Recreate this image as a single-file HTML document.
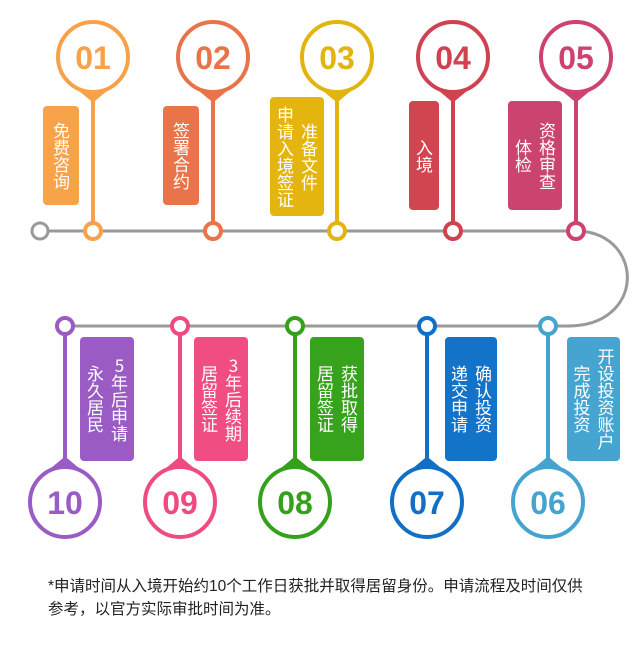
<!DOCTYPE html>
<html><head><meta charset="utf-8"><style>
html,body{margin:0;padding:0;background:#fff;}
#c{position:relative;width:640px;height:655px;overflow:hidden;font-family:"Liberation Sans","Noto Sans CJK SC",sans-serif;}
svg{position:absolute;left:0;top:0;}
.b{position:absolute;border-radius:4px;color:#fff;writing-mode:vertical-rl;text-orientation:upright;text-align:center;font-size:17px;line-height:24px;display:flex;align-items:center;justify-content:center;font-family:"Noto Sans CJK SC",sans-serif;}
.n{font-family:"Liberation Sans",sans-serif;font-weight:bold;font-size:32px;}
.foot{position:absolute;left:48px;top:575px;width:562px;font-size:15.5px;line-height:23px;color:#222;font-family:"Liberation Sans","Noto Sans CJK SC",sans-serif;}
</style></head><body><div id="c">
<svg width="640" height="655" viewBox="0 0 640 655">
<g fill="none" stroke="#999" stroke-width="3">
<line x1="48" y1="231" x2="580" y2="231"/>
<path d="M580 231 C 645 236 645 326 568 326"/>
<line x1="65" y1="326" x2="570" y2="326"/>
<circle cx="40" cy="231" r="8"/>
</g>
<g stroke-width="4">
<g stroke="#f7a24a" fill="#f7a24a"><line x1="93" y1="95" x2="93" y2="225"/><path d="M81 90 L105 90 L93 100 Z"/><circle cx="93" cy="57" r="35" fill="#fff"/><circle cx="93" cy="231" r="8" fill="#fff"/></g>
<g stroke="#e9734a" fill="#e9734a"><line x1="213" y1="95" x2="213" y2="225"/><path d="M201 90 L225 90 L213 100 Z"/><circle cx="213" cy="57" r="35" fill="#fff"/><circle cx="213" cy="231" r="8" fill="#fff"/></g>
<g stroke="#e2b40e" fill="#e2b40e"><line x1="337" y1="95" x2="337" y2="225"/><path d="M325 90 L349 90 L337 100 Z"/><circle cx="337" cy="57" r="35" fill="#fff"/><circle cx="337" cy="231" r="8" fill="#fff"/></g>
<g stroke="#d0424f" fill="#d0424f"><line x1="453" y1="95" x2="453" y2="225"/><path d="M441 90 L465 90 L453 100 Z"/><circle cx="453" cy="57" r="35" fill="#fff"/><circle cx="453" cy="231" r="8" fill="#fff"/></g>
<g stroke="#cc4270" fill="#cc4270"><line x1="576" y1="95" x2="576" y2="225"/><path d="M564 90 L588 90 L576 100 Z"/><circle cx="576" cy="57" r="35" fill="#fff"/><circle cx="576" cy="231" r="8" fill="#fff"/></g>
<g stroke="#9a5bc4" fill="#9a5bc4"><line x1="65" y1="332" x2="65" y2="465"/><path d="M53 469 L77 469 L65 459 Z"/><circle cx="65" cy="502" r="35" fill="#fff"/><circle cx="65" cy="326" r="8" fill="#fff"/></g>
<g stroke="#ef4b82" fill="#ef4b82"><line x1="180" y1="332" x2="180" y2="465"/><path d="M168 469 L192 469 L180 459 Z"/><circle cx="180" cy="502" r="35" fill="#fff"/><circle cx="180" cy="326" r="8" fill="#fff"/></g>
<g stroke="#35a01b" fill="#35a01b"><line x1="295" y1="332" x2="295" y2="465"/><path d="M283 469 L307 469 L295 459 Z"/><circle cx="295" cy="502" r="35" fill="#fff"/><circle cx="295" cy="326" r="8" fill="#fff"/></g>
<g stroke="#1170c6" fill="#1170c6"><line x1="427" y1="332" x2="427" y2="465"/><path d="M415 469 L439 469 L427 459 Z"/><circle cx="427" cy="502" r="35" fill="#fff"/><circle cx="427" cy="326" r="8" fill="#fff"/></g>
<g stroke="#44a3cf" fill="#44a3cf"><line x1="548" y1="332" x2="548" y2="465"/><path d="M536 469 L560 469 L548 459 Z"/><circle cx="548" cy="502" r="35" fill="#fff"/><circle cx="548" cy="326" r="8" fill="#fff"/></g>
</g>
<g class="n" text-anchor="middle">
<text x="93" y="69" fill="#f7a24a">01</text>
<text x="213" y="69" fill="#e9734a">02</text>
<text x="337" y="69" fill="#e2b40e">03</text>
<text x="453" y="69" fill="#d0424f">04</text>
<text x="576" y="69" fill="#cc4270">05</text>
<text x="65" y="514" fill="#9a5bc4">10</text>
<text x="180" y="514" fill="#ef4b82">09</text>
<text x="295" y="514" fill="#35a01b">08</text>
<text x="427" y="514" fill="#1170c6">07</text>
<text x="548" y="514" fill="#44a3cf">06</text>
</g>
</svg>
<div class="b" style="left:43px;top:106px;width:36px;height:99px;background:#f8a24a">免费咨询</div>
<div class="b" style="left:163px;top:106px;width:36px;height:99px;background:#ea7449">签署合约</div>
<div class="b" style="left:270px;top:97px;width:54px;height:119px;background:#e5b50f">准备文件<br>申请入境签证</div>
<div class="b" style="left:409px;top:101px;width:30px;height:109px;background:#d14551">入境</div>
<div class="b" style="left:508px;top:101px;width:54px;height:109px;background:#cb4470">资格审查<br>体检</div>
<div class="b" style="left:80px;top:337px;width:54px;height:124px;background:#9a5bc4">5年后申请<br>永久居民</div>
<div class="b" style="left:194px;top:337px;width:54px;height:124px;background:#f04d83">3年后续期<br>居留签证</div>
<div class="b" style="left:310px;top:337px;width:54px;height:124px;background:#37a21c">获批取得<br>居留签证</div>
<div class="b" style="left:445px;top:337px;width:52px;height:124px;background:#1273c8">确认投资<br>递交申请</div>
<div class="b" style="left:567px;top:337px;width:53px;height:124px;background:#46a4d0">开设投资账户<br>完成投资</div>
<div class="foot">*申请时间从入境开始约10个工作日获批并取得居留身份。申请流程及时间仅供<br>参考，以官方实际审批时间为准。</div>
</div></body></html>
